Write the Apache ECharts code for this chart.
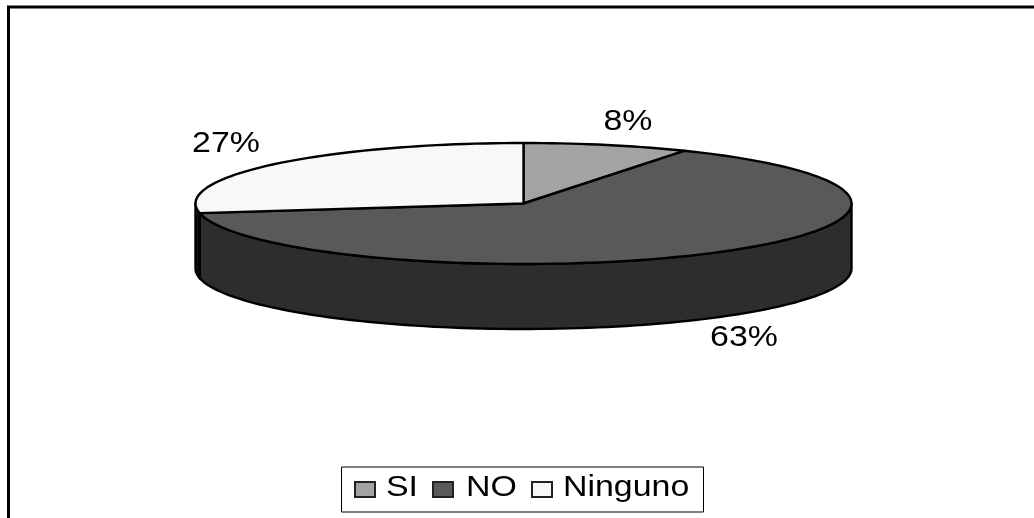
<!DOCTYPE html>
<html>
<head>
<meta charset="utf-8">
<style>html,body{margin:0;padding:0;background:#fff}#chart{width:1034px;height:518px}</style>
<script src="https://cdn.jsdelivr.net/npm/echarts@6/dist/echarts.min.js"></script>
</head>
<body>
<div id="chart"></div>
<script>
// Survey answers, as printed on the chart
const categories = ['SI', 'NO', 'Ninguno'];
const percents = [8, 63, 27];

// Fill of each slice's top face, its rim, and the swatch in the key
const topColors = ['#a3a3a3', '#595959', '#f8f8f8'];
const rimColors = ['#6e6e6e', '#2d2d2d', '#101010'];

// Tilted-disc geometry
const CX = 523.5, CY = 203.5, RX = 328, RY = 60.5, DEPTH = 65;
const TEXT_STRETCH = 1.13;
const FONT = '"Liberation Sans", Arial, sans-serif';
const labelPositions = [[628, 122], [744, 338], [226, 144]];

const total = percents.reduce((a, b) => a + b, 0);

// Point on the rim for a clockwise angle measured from 12 o'clock
const rim = (a, drop = 0) => [CX + RX * Math.sin(a), CY - RY * Math.cos(a) + drop];

function arcPoints(from, to, drop) {
  const n = Math.max(2, Math.ceil(Math.abs(to - from) / 0.03));
  const pts = [];
  for (let i = 0; i <= n; i++) pts.push(rim(from + (to - from) * i / n, drop));
  return pts;
}

function renderSlice(params, api) {
  const i = params.dataIndex;
  let before = 0;
  for (let k = 0; k < i; k++) before += percents[k];
  const start = before / total * Math.PI * 2;
  const end = (before + api.value(0)) / total * Math.PI * 2;
  const children = [];

  // The near half of the disc shows a rim below the top face
  const wallFrom = Math.max(start, Math.PI / 2);
  const wallTo = Math.min(end, Math.PI * 1.5);
  if (wallTo > wallFrom) {
    const upper = arcPoints(wallFrom, wallTo, 0);
    const lower = arcPoints(wallTo, wallFrom, DEPTH);
    children.push({
      type: 'polygon',
      shape: { points: upper.concat(lower) },
      style: { fill: rimColors[i], stroke: '#000', lineWidth: 2.4, lineJoin: 'round' }
    });
  }

  children.push({
    type: 'polygon',
    shape: { points: [[CX, CY]].concat(arcPoints(start, end, 0)) },
    style: { fill: topColors[i], stroke: '#000', lineWidth: 2.4, lineJoin: 'round' }
  });

  const [lx, ly] = labelPositions[i];
  children.push({
    type: 'text',
    x: lx, y: ly, scaleX: TEXT_STRETCH,
    style: {
      text: Math.round(api.value(0)) + '%',
      font: '30px ' + FONT,
      fill: '#000', align: 'center', verticalAlign: 'middle'
    },
    z2: 5
  });
  return { type: 'group', children };
}

// Key along the bottom: swatch and stretched caption for each category
const keyLayout = [
  { swatch: 354, text: 386 },
  { swatch: 432, text: 466 },
  { swatch: 531, text: 563 }
];
const keyElements = [{
  type: 'rect',
  shape: { x: 341.5, y: 467, width: 362, height: 45 },
  style: { fill: '#fff', stroke: '#000', lineWidth: 1 }
}];
categories.forEach((name, i) => {
  keyElements.push({
    type: 'rect',
    shape: { x: keyLayout[i].swatch + 1, y: 482, width: 20, height: 15 },
    style: { fill: topColors[i], stroke: '#222', lineWidth: 2 }
  });
  keyElements.push({
    type: 'text',
    x: keyLayout[i].text, y: 488, scaleX: TEXT_STRETCH,
    style: { text: name, font: '30px ' + FONT, fill: '#000', align: 'left', verticalAlign: 'middle' }
  });
});

// Outer frame, open where the page cuts it off
keyElements.push({
  type: 'polyline',
  shape: { points: [[8.5, 518], [8.5, 7], [1034, 7]] },
  style: { fill: null, stroke: '#000', lineWidth: 3 }
});

const chart = echarts.init(document.getElementById('chart'), null, { renderer: 'canvas' });
chart.setOption({
  animation: false,
  backgroundColor: '#fff',
  xAxis: { show: false },
  yAxis: { show: false },
  series: [{
    type: 'custom',
    coordinateSystem: 'none',
    name: 'Respuesta',
    data: percents.map((v, i) => ({ name: categories[i], value: [v] })),
    renderItem: renderSlice
  }],
  graphic: { elements: keyElements }
});
</script>
</body>
</html>
